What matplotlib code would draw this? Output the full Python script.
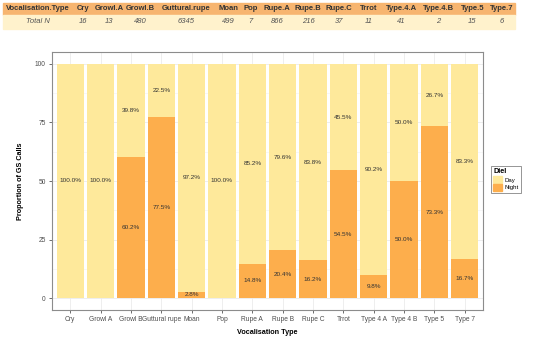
import matplotlib.pyplot as plt
import numpy as np

plt.rcParams["font.family"] = ["Liberation Sans", "DejaVu Sans"]

# data
categories = ["Cry", "Growl A", "Growl B", "Guttural rupe", "Moan", "Pop", "Rupe A",
              "Rupe B", "Rupe C", "Trrot", "Type 4 A", "Type 4 B", "Type 5", "Type 7"]
night = [0, 0, 60.2, 77.5, 2.8, 0, 14.8, 20.4, 16.2, 54.5, 9.8, 50.0, 73.3, 16.7]
day = [100.0, 100.0, 39.8, 22.5, 97.2, 100.0, 85.2, 79.6, 83.8, 45.5, 90.2, 50.0, 26.7, 83.3]
total_n = [16, 13, 480, 6345, 499, 7, 866, 216, 37, 11, 41, 2, 15, 6]

day_col = "#FEE99B"
night_col = "#FDAE4C"

W, H = 550, 339
fig = plt.figure(figsize=(W / 100, H / 100), dpi=100)

ax = fig.add_axes([52 / W, 1 - 310 / H, (483 - 52) / W, (310 - 52) / H])
x = np.arange(len(categories))
ax.bar(x, night, width=0.9, color=night_col, zorder=2)
ax.bar(x, day, width=0.9, bottom=night, color=day_col, zorder=2)

for i in range(len(categories)):
    if night[i] > 0:
        ax.text(x[i], night[i] / 2, f"{night[i]:.1f}%", ha="center", va="center",
                fontsize=4.6, color="#333333", zorder=3)
    ax.text(x[i], night[i] + day[i] / 2, f"{day[i]:.1f}%", ha="center", va="center",
            fontsize=4.6, color="#333333", zorder=3)

ax.set_xlim(-0.6, len(categories) - 0.4)
ax.set_ylim(-5, 105)
ax.set_xticks(x)
ax.set_xticklabels(categories)
ax.set_yticks([0, 25, 50, 75, 100])
ax.set_yticks([12.5, 37.5, 62.5, 87.5], minor=True)
ax.tick_params(axis="both", labelsize=4.8, labelcolor="#4D4D4D", color="#333333",
               length=2.5, width=0.5, pad=2)
ax.tick_params(axis="y", which="minor", length=0)
ax.grid(True, which="major", color="#EBEBEB", lw=0.6, zorder=0)
ax.grid(True, which="minor", axis="y", color="#F2F2F2", lw=0.4, zorder=0)
for s in ax.spines.values():
    s.set_color("#8C8C8C")
    s.set_linewidth(0.8)
ax.set_xlabel("Vocalisation Type", fontsize=5.2, fontweight="bold", labelpad=4)
ax.set_ylabel("Proportion of GS Calls", fontsize=5.2, fontweight="bold", labelpad=8)

leg_handles = [plt.Rectangle((0, 0), 1, 1, color=day_col),
               plt.Rectangle((0, 0), 1, 1, color=night_col)]
leg = fig.legend(leg_handles, ["Day", "Night"], title="Diel", loc="upper left",
                 bbox_to_anchor=(488 / W, 1 - 163 / H), fontsize=4.3,
                 title_fontproperties={"weight": "bold", "size": 5.2},
                 frameon=True, fancybox=False, edgecolor="#666666",
                 handlelength=1.4, handleheight=1.4, handletextpad=0.5,
                 borderpad=0.4, labelspacing=0.15)
leg.get_frame().set_linewidth(0.6)
leg._legend_box.align = "left"

# summary table across the top
tab = fig.add_axes([0, 0, 1, 1], zorder=-1)
tab.set_xlim(0, W)
tab.set_ylim(H, 0)
tab.axis("off")
bounds = [3, 72, 95, 124, 156, 217, 240, 261, 293, 323, 355, 382, 420, 457, 488, 515]
tab.add_patch(plt.Rectangle((bounds[0], 2.5), bounds[-1] - bounds[0], 12, color="#F7B570"))
tab.add_patch(plt.Rectangle((bounds[0], 14.5), bounds[-1] - bounds[0], 14, color="#FFF2CC"))
header = ["Vocalisation.Type"] + [c.replace(" ", ".") for c in categories]
row = ["Total N"] + [str(n) for n in total_n]
for j in range(len(header)):
    cx = (bounds[j] + bounds[j + 1]) / 2
    tab.text(cx, 8.5, header[j], ha="center", va="center", fontsize=5.5,
             fontweight="bold", color="#333333")
    tab.text(cx, 21.8, row[j], ha="center", va="center", fontsize=5.5,
             style="italic", color="#555555")

fig.savefig("out.png", dpi=100)
